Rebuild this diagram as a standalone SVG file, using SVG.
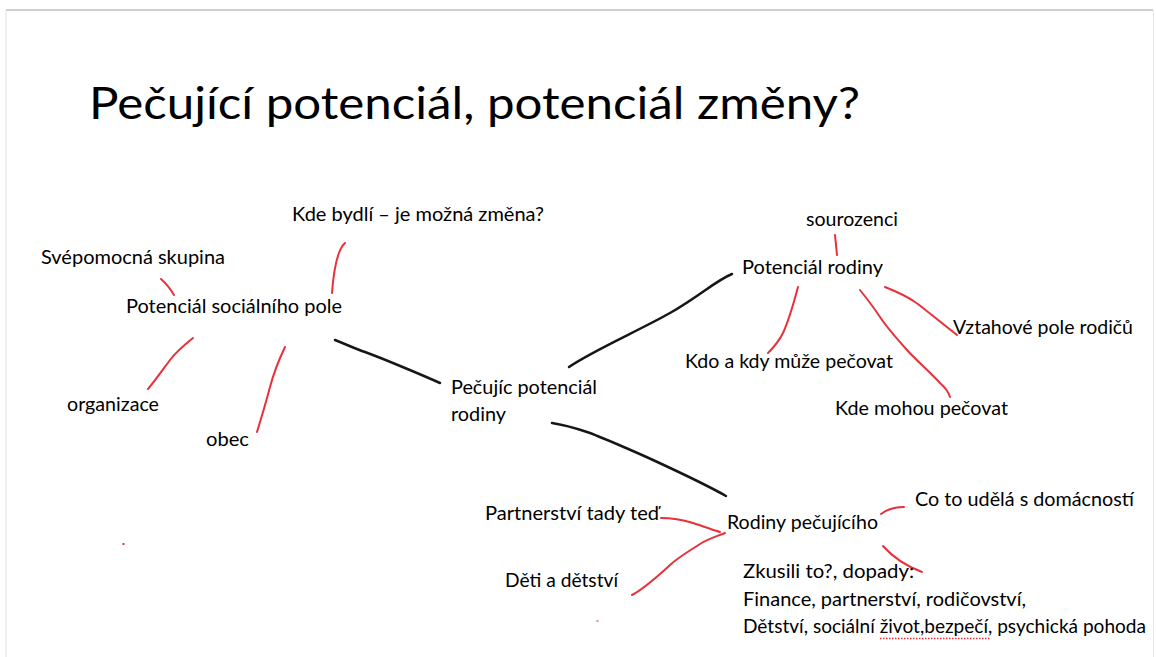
<svg xmlns="http://www.w3.org/2000/svg" width="1156" height="657" viewBox="0 0 1156 657">
<style>
.t{font-family:Lato,"Liberation Sans",sans-serif;font-size:20px;fill:#000}
.title{font-size:44px}
.k{stroke:#161616;stroke-width:2.5;fill:none;stroke-linecap:round;stroke-linejoin:round}
.r{stroke:#e8303a;stroke-width:2;fill:none;stroke-linecap:round;stroke-linejoin:round}
</style>
<rect x="0" y="0" width="1156" height="657" fill="#fff"/>
<g id="frame" fill="none">
<path d="M6,10 H1153" stroke="#cfcfcf" stroke-width="2"/>
<path d="M6,10 V657" stroke="#e2e2e2" stroke-width="1"/>
<path d="M1153.5,10 V657" stroke="#e8e8e8" stroke-width="1"/>
</g>
<g id="title"><text class="t title" x="89" y="119" textLength="771" lengthAdjust="spacingAndGlyphs">Pečující potenciál, potenciál změny?</text></g>
<g id="connectors">
<path class="k" d="M335,340 C350,346 356,349 365,352 S420,374 440,383"/>
<path class="k" d="M569,367 C590,352 640,330 670,313 S715,281 732,274"/>
<path class="k" d="M552,423 C565,425 575,428 587,432 S640,454 653,460 S705,484 726,496"/>
<path class="r" d="M161,279 Q168,285 174,295"/>
<path class="r" d="M345,243 Q335,252 332,293"/>
<path class="r" d="M193,338 C183,346 176,352 170,360 S154,382 148,389"/>
<path class="r" d="M285,347 Q275,368 270,387 T257,432"/>
<path class="r" d="M835,235 L837,255"/>
<path class="r" d="M798,287 C794,302 789,320 783,333 Q778,343 768,353"/>
<path class="r" d="M860,290 C868,300 874,308 880,317 S898,340 907,350 S930,372 940,383 Q948,390 950,397"/>
<path class="r" d="M885,287 C895,291 905,295 915,302 S945,326 957,335"/>
<path class="r" d="M661,518 C672,518 683,520 693,523 S713,530 720,532"/>
<path class="r" d="M725,533 C715,537 708,539 700,544 C688,552 680,556 670,565 S645,588 632,595"/>
<path class="r" d="M881,514 Q890,507 904,507"/>
<path class="r" d="M883,546 Q898,563 922,572"/>
</g>
<g id="n-kde-bydli"><text class="t" x="292" y="221" textLength="252" lengthAdjust="spacingAndGlyphs">Kde bydlí – je možná změna?</text></g>
<g id="n-svepomocna"><text class="t" x="41" y="264" textLength="184" lengthAdjust="spacingAndGlyphs">Svépomocná skupina</text></g>
<g id="n-socialni-pole"><text class="t" x="126" y="313" textLength="216" lengthAdjust="spacingAndGlyphs">Potenciál sociálního pole</text></g>
<g id="n-organizace"><text class="t" x="67" y="411" textLength="92" lengthAdjust="spacingAndGlyphs">organizace</text></g>
<g id="n-obec"><text class="t" x="206" y="446" textLength="43" lengthAdjust="spacingAndGlyphs">obec</text></g>
<g id="n-pecujic"><text class="t" x="451" y="394" textLength="146" lengthAdjust="spacingAndGlyphs">Pečujíc potenciál</text><text class="t" x="451" y="421" textLength="55" lengthAdjust="spacingAndGlyphs">rodiny</text></g>
<g id="n-sourozenci"><text class="t" x="806" y="226" textLength="92" lengthAdjust="spacingAndGlyphs">sourozenci</text></g>
<g id="n-potencial-rodiny"><text class="t" x="742" y="274" textLength="141" lengthAdjust="spacingAndGlyphs">Potenciál rodiny</text></g>
<g id="n-vztahove"><text class="t" x="953" y="334" textLength="180" lengthAdjust="spacingAndGlyphs">Vztahové pole rodičů</text></g>
<g id="n-kdo-kdy"><text class="t" x="685" y="368" textLength="208" lengthAdjust="spacingAndGlyphs">Kdo a kdy může pečovat</text></g>
<g id="n-kde-mohou"><text class="t" x="835" y="415" textLength="173" lengthAdjust="spacingAndGlyphs">Kde mohou pečovat</text></g>
<g id="n-co-to"><text class="t" x="915" y="506" textLength="219" lengthAdjust="spacingAndGlyphs">Co to udělá s domácností</text></g>
<g id="n-partnerstvi"><text class="t" x="485" y="520" textLength="174" lengthAdjust="spacingAndGlyphs">Partnerství tady teď</text></g>
<g id="n-rodiny-pecujiciho"><text class="t" x="727" y="529" textLength="151" lengthAdjust="spacingAndGlyphs">Rodiny pečujícího</text></g>
<g id="n-deti"><text class="t" x="505" y="587" textLength="113" lengthAdjust="spacingAndGlyphs">Děti a dětství</text></g>
<g id="n-zkusili">
<text class="t" x="743" y="578" textLength="171" lengthAdjust="spacingAndGlyphs">Zkusili to?, dopady:</text>
<text class="t" x="743" y="606" textLength="283" lengthAdjust="spacingAndGlyphs">Finance, partnerství, rodičovství,</text>
<text class="t" x="743" y="633" textLength="403" lengthAdjust="spacingAndGlyphs">Dětství, sociální život,bezpečí, psychická pohoda</text>
<path d="M880,638.5 H990" stroke="#e8303a" stroke-width="1.5" stroke-dasharray="1.5,1.5" fill="none"/>
</g>
<g id="marks" fill="#e8303a">
<rect x="122.5" y="543" width="2" height="2"/>
<rect x="596.5" y="620" width="2" height="2" fill="#f08a90"/>
</g>
</svg>
